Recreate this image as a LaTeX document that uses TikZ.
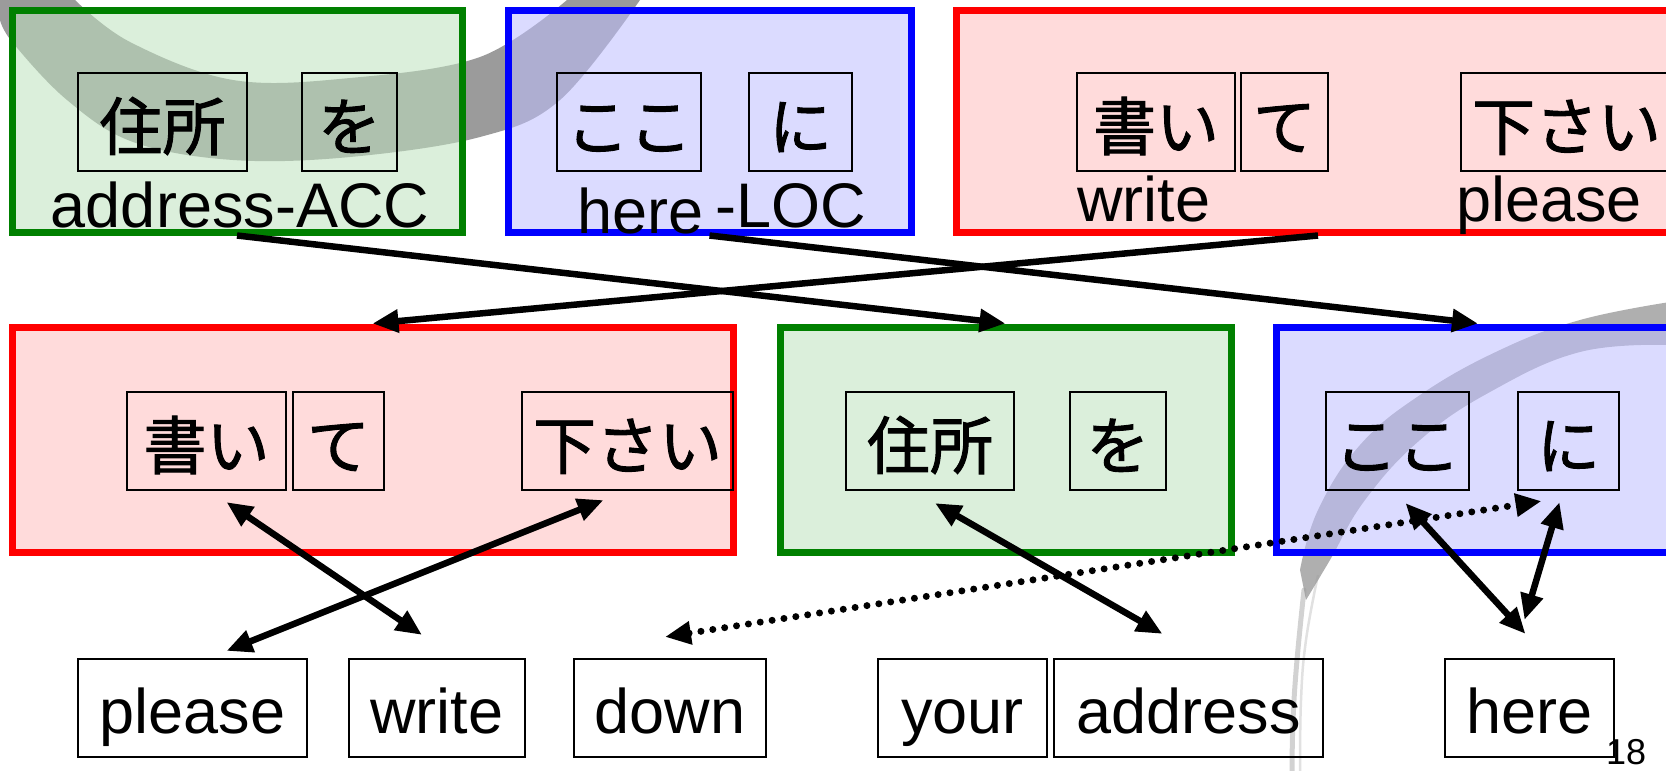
\documentclass[tikz,border=0pt]{standalone}
\usepackage{fontspec}
\setmainfont{Liberation Sans}
\newfontfamily\jpfamily[FakeBold=1.5]{Noto Sans CJK JP}
\usetikzlibrary{arrows.meta}
\newcommand\enfont{\fontsize{63}{70}\selectfont}
\newcommand\jpfont{\jpfamily\fontsize{63}{70}\selectfont}
\definecolor{gline}{RGB}{0,128,0}
\definecolor{bline}{RGB}{0,0,255}
\definecolor{rline}{RGB}{255,0,0}
\definecolor{gtint}{RGB}{190,225,190}
\definecolor{btint}{RGB}{190,190,255}
\definecolor{rtint}{RGB}{255,190,190}
\definecolor{swoop}{RGB}{155,155,155}
\tikzset{
  outerbox/.style={rectangle, line width=7pt, inner sep=0pt, fill opacity=0.55},
  wbox/.style={rectangle, draw=black, line width=2.2pt, inner sep=0pt, minimum height=98pt},
  jp/.style={font=\jpfont, text height=77pt, text depth=21pt},
  en/.style={font=\enfont, text height=74pt, text depth=24pt},
  lab/.style={font=\enfont, inner sep=0pt},
  tip/.tip={Triangle[length=26pt,width=22pt]},
  arr/.style={line width=6.5pt, -tip},
  darr/.style={line width=6.5pt, tip-tip},
  dotarr/.style={line width=7pt, dash pattern=on 0pt off 12pt, line cap=round, tip-tip},
}
\begin{document}
\begin{tikzpicture}[x=1pt,y=-1pt]
\useasboundingbox (0,0) rectangle (1666,771);
\clip (0,0) rectangle (1666,771);

% background swooshes
\fill[swoop] (-10,-10) -- (70,-10) -- plot[smooth,tension=0.6] coordinates {(75,0) (130,42) (233,80) (350,78) (480,57) (567,0)} -- (575,-10) -- (660,-10) -- plot[smooth,tension=0.6] coordinates {(640,0) (560,100) (480,137) (350,157) (233,160) (133,142) (67,100) (13,43) (0,20)} -- (-10,20) -- cycle;
\fill[swoop, opacity=0.8] plot[smooth,tension=0.7] coordinates {(1300,570) (1318,510) (1360,445) (1420,395) (1500,350) (1580,320) (1670,302)} -- plot[smooth,tension=0.7] coordinates {(1670,345) (1580,352) (1490,392) (1420,440) (1365,500) (1330,560) (1306,600)} -- cycle;
\draw[swoop, opacity=0.45, line width=5pt, line cap=round] plot[smooth,tension=0.7] coordinates {(1304,590) (1297,660) (1293,720) (1292,775)};
\draw[swoop, opacity=0.3, line width=2.5pt] plot[smooth,tension=0.7] coordinates {(1318,575) (1306,640) (1301,700) (1300,775)};

% top row outer boxes
\node[outerbox, draw=gline, fill=gtint, minimum width=450pt, minimum height=222pt] (gtop) at (237,121) {};
\node[outerbox, draw=bline, fill=btint, minimum width=403pt, minimum height=222pt] (btop) at (709.5,121) {};
\node[outerbox, draw=rline, fill=rtint, minimum width=724pt, minimum height=222pt] (rtop) at (1318,121) {};

% top row inner boxes
\node[wbox, jp, minimum width=169pt] (jusho1) at (162.5,122) {住所};
\node[wbox, jp, minimum width=95pt] (wo1) at (349.5,122) {を};
\node[wbox, jp, minimum width=144pt] (koko1) at (629,122) {ここ};
\node[wbox, jp, minimum width=103pt] (ni1) at (800.5,122) {に};
\node[wbox, jp, minimum width=158pt] (kaki1) at (1156,122) {書い};
\node[wbox, jp, minimum width=87pt] (te1) at (1284.5,122) {て};
\node[wbox, jp, minimum width=211pt] (kudasai1) at (1566.5,122) {下さい};

% top row glosses
\node[lab, anchor=base] (glossacc) at (240,227) {address-ACC};
\node[lab, anchor=base west] (glosshere) at (577,233) {here};
\node[lab, anchor=base west] (glossloc) at (715,227) {-LOC};
\node[lab, anchor=base west] (glosswrite) at (1077,221) {write};
\node[lab, anchor=base west] (glossplease) at (1456,221) {please};

% middle row outer boxes
\node[outerbox, draw=rline, fill=rtint, minimum width=721pt, minimum height=225pt] (rmid) at (372.5,439.5) {};
\node[outerbox, draw=gline, fill=gtint, minimum width=451pt, minimum height=225pt] (gmid) at (1005.5,439.5) {};
\node[outerbox, draw=bline, fill=btint, minimum width=404pt, minimum height=225pt] (bmid) at (1478,439.5) {};

% middle row inner boxes
\node[wbox, jp, minimum width=159pt] (kaki2) at (206.5,441) {書い};
\node[wbox, jp, minimum width=91pt] (te2) at (338.5,441) {て};
\node[wbox, jp, minimum width=211pt] (kudasai2) at (627.5,441) {下さい};
\node[wbox, jp, minimum width=168pt] (jusho2) at (930,441) {住所};
\node[wbox, jp, minimum width=96pt] (wo2) at (1118,441) {を};
\node[wbox, jp, minimum width=143pt] (koko2) at (1397.5,441) {ここ};
\node[wbox, jp, minimum width=101pt] (ni2) at (1568.5,441) {に};

% bottom row
\node[wbox, en, minimum width=229pt] (eplease) at (192.5,708) {please};
\node[wbox, en, minimum width=176pt] (ewrite) at (437,708) {write};
\node[wbox, en, minimum width=192pt] (edown) at (670,708) {down};
\node[wbox, en, minimum width=169pt] (eyour) at (962.5,708) {your};
\node[wbox, en, minimum width=269pt] (eaddress) at (1188.5,708) {address};
\node[wbox, en, minimum width=169pt] (ehere) at (1529.5,708) {here};

\node[font=\fontsize{36}{36}\selectfont, inner sep=0pt, anchor=base west] (pagenum) at (1606,764) {18};

% reordering arrows
\draw[arr] (gtop.south) -- (gmid.north);
\draw[arr] (btop.south) -- (bmid.north);
\draw[arr] (rtop.south) -- (rmid.north);

% alignment arrows
\draw[darr] ([xshift=20pt,yshift=-11pt]kaki2.south) -- ([xshift=-15pt,yshift=23pt]ewrite.north);
\draw[darr] ([xshift=-24pt,yshift=-9pt]kudasai2.south) -- ([xshift=34pt,yshift=7pt]eplease.north);
\draw[darr] ([xshift=5pt,yshift=-12pt]jusho2.south) -- ([xshift=-26pt,yshift=24pt]eaddress.north);
\draw[dotarr] ([xshift=-5pt,yshift=21pt]edown.north) -- ([xshift=-27pt,yshift=-10pt]ni2.south);
\draw[darr] ([xshift=8pt,yshift=-12pt]koko2.south) -- ([xshift=-4pt,yshift=24pt]ehere.north);
\draw[darr] ([xshift=-9pt,yshift=-11pt]ni2.south) -- ([xshift=-5pt,yshift=38pt]ehere.north);
\end{tikzpicture}
\end{document}
